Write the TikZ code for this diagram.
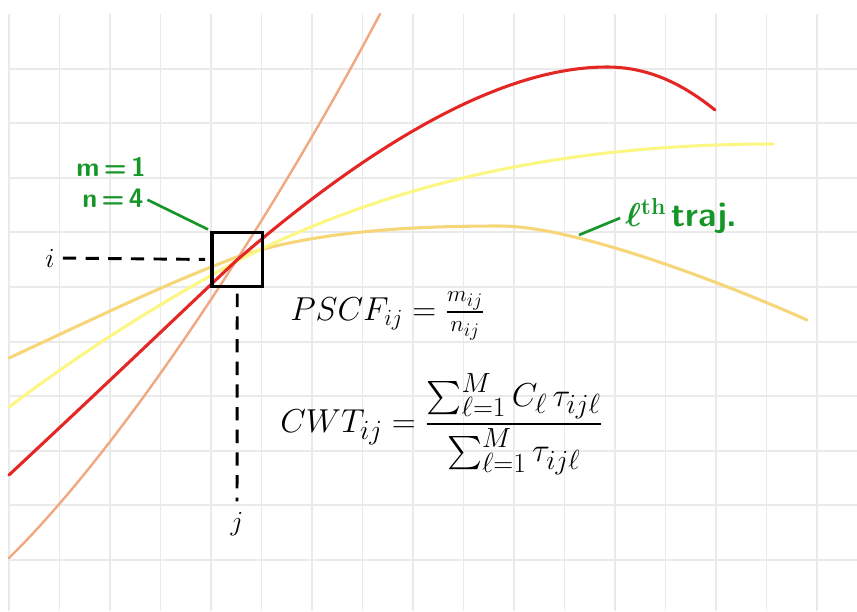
\documentclass[tikz,border=0pt]{standalone}
\usepackage{amsmath}
\usetikzlibrary{positioning}
\definecolor{gridgray}{RGB}{234,234,234}
\definecolor{trajred}{RGB}{228,38,36}
\definecolor{trajorange}{RGB}{240,168,128}
\definecolor{trajgold}{RGB}{246,214,120}
\definecolor{trajyellow}{RGB}{252,246,130}
\definecolor{labgreen}{RGB}{22,150,40}
\tikzset{
  gridline/.style={gridgray, line width=1.4pt},
  traj/.style={line width=2.3pt, line cap=round},
  dashline/.style={line width=2.2pt, dash pattern=on 10pt off 7pt},
  greenlab/.style={labgreen, font=\sffamily\bfseries\fontsize{20}{20}\selectfont, inner sep=0pt},
  blacklab/.style={font=\fontsize{22}{22}\selectfont, inner sep=0pt},
  formula/.style={anchor=west, inner sep=0pt, font=\fontsize{27}{27}\selectfont},
}
\begin{document}
\begin{tikzpicture}[x=0.75pt, y=-0.75pt]
  % pixel coordinates of the 857x611 sheet, y grows downwards
  \useasboundingbox (0,0) rectangle (857,611);
  \fill[white] (0,0) rectangle (857,611);
  % grid: cells 50.5 wide, 54.6 high
  \foreach \k in {0,...,16}
    \draw[gridline] (9+50.5*\k,14) -- (9+50.5*\k,611);
  \foreach \k in {1,...,10}
    \draw[gridline] (9,14+54.6*\k) -- (857,14+54.6*\k);
  % trajectories through the cell (i,j)
  \draw[traj, trajgold] (9,358) .. controls (89,321) and (167,283) .. (237,257)
    .. controls (317,230) and (420,226) .. (500,226)
    .. controls (580,226) and (740,290) .. (807,320);
  \draw[traj, trajyellow] (9,407) .. controls (89,347) and (157,305) .. (237,261)
    .. controls (357,200) and (523,144) .. (773,144);
  \draw[traj, trajorange, line width=1.8pt] (9,558) .. controls (129,440) and (280,204) .. (380,14);
  \draw[traj, trajred] (9,475) .. controls (130,362) and (190,304) .. (237,260)
    .. controls (347,165) and (487,67) .. (607,67)
    .. controls (655,67) and (690,90) .. (715,110);
  % the cell and its indices
  \node[draw, line width=2.4pt, minimum width=37.9pt, minimum height=40.95pt, inner sep=0pt] (cell) at (237.25,259.5) {};
  \node[blacklab] (ilab) at (50,258) {$i$};
  \node[blacklab] (jlab) at (237,524) {$j$};
  \draw[dashline, shorten <=6pt, shorten >=4pt] (ilab.east) -- (cell.west);
  \draw[dashline, shorten <=4pt, shorten >=8pt] (cell.south) -- (jlab.north);
  % counts
  \node[greenlab, anchor=west] (m1) at (76,167) {m\,=\,1};
  \node[greenlab, anchor=west] (n4) at (82,198) {n\,=\,4};
  \draw[labgreen, line width=2pt, shorten <=3pt, shorten >=2pt] (n4.east) -- (cell.north west);
  \coordinate (goldpt) at (579,235);
  \node[greenlab, anchor=west, font=\sffamily\bfseries\boldmath\fontsize{26}{26}\selectfont] (lth) at (625,216) {$\ell^{\mathrm{th}}$\,traj.};
  \draw[labgreen, line width=2pt, shorten >=4pt] (goldpt) -- (lth.west);
  % formulas
  \node[formula] (pscf) at (290,316) {$PSCF_{ij} = \frac{m_{ij}}{n_{ij}}$};
  \node[formula, font=\fontsize{29}{29}\selectfont] (cwt) at (280,424) {$CWT_{ij} = \dfrac{\sum_{\ell=1}^{M} C_{\ell}\,\tau_{ij\ell}}{\sum_{\ell=1}^{M} \tau_{ij\ell}}$};
\end{tikzpicture}
\end{document}
